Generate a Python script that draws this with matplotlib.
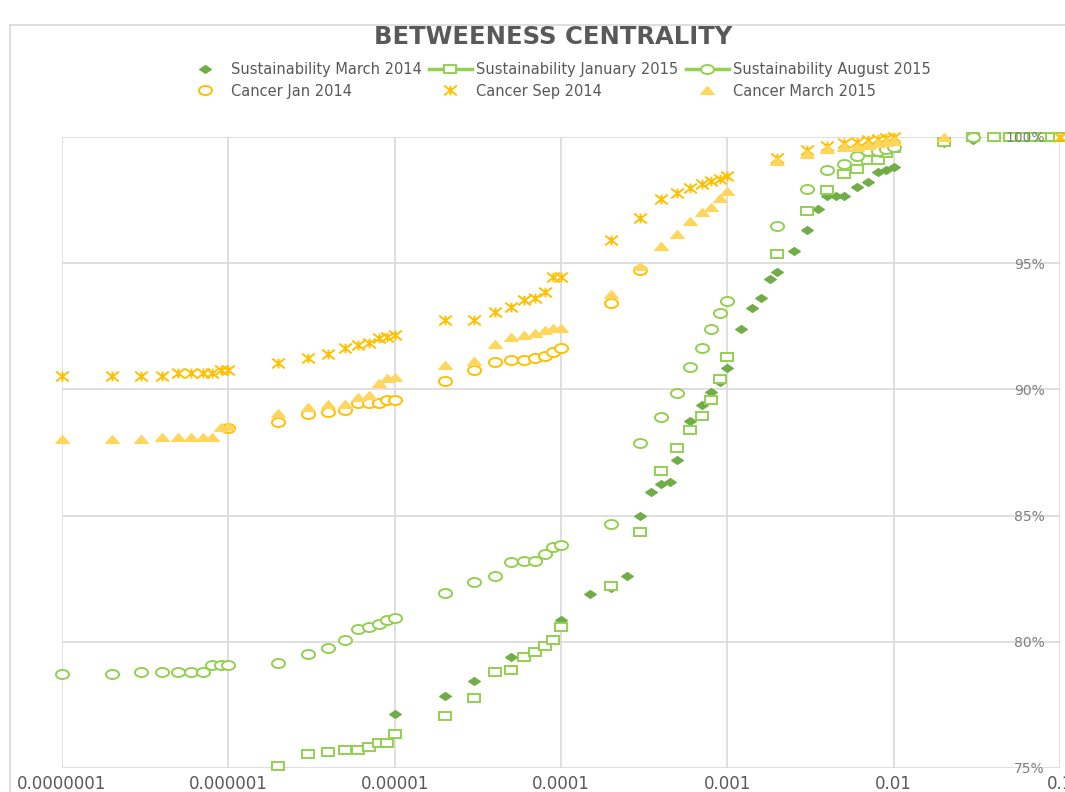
import matplotlib
matplotlib.use("Agg")
import matplotlib.pyplot as plt
from matplotlib.markers import MarkerStyle
from matplotlib.transforms import Affine2D
from matplotlib.path import Path
from matplotlib.lines import Line2D
from matplotlib.ticker import NullLocator

# ---------------- data ----------------
title = "BETWEENESS CENTRALITY"

s_mar14_x = [1e-5, 2e-5, 3e-5, 4e-5, 5e-5, 1e-4, 1.5e-4, 2e-4, 2.5e-4, 3e-4, 3.5e-4, 4e-4,
             4.5e-4, 5e-4, 6e-4, 7e-4, 8e-4, 9e-4, 1e-3, 1.2e-3, 1.4e-3, 1.6e-3, 1.8e-3,
             2e-3, 2.5e-3, 3e-3, 3.5e-3, 4e-3, 4.5e-3, 5e-3, 6e-3, 7e-3, 8e-3, 9e-3, 1e-2,
             2e-2, 3e-2, 4e-2, 9e-2, 1e-1]
s_mar14_y = [77.13, 77.85, 78.46, 78.79, 79.38, 80.86, 81.88, 82.12, 82.6, 85.0, 85.95, 86.24,
             86.34, 87.2, 88.76, 89.38, 89.88, 90.30, 90.83, 92.38, 93.24, 93.63, 94.37,
             94.66, 95.5, 96.32, 97.15, 97.67, 97.67, 97.67, 98.0, 98.2, 98.63, 98.69, 98.82,
             99.75, 99.88, 100, 100, 100]

s_jan15_x = [2e-6, 3e-6, 4e-6, 5e-6, 6e-6, 7e-6, 8e-6, 9e-6, 1e-5,
             2e-5, 3e-5, 4e-5, 5e-5, 6e-5, 7e-5, 8e-5, 9e-5, 1e-4,
             2e-4, 3e-4, 4e-4, 5e-4, 6e-4, 7e-4, 8e-4, 9e-4, 1e-3,
             2e-3, 3e-3, 4e-3, 5e-3, 6e-3, 7e-3, 8e-3, 9e-3, 1e-2,
             2e-2, 3e-2, 4e-2, 5e-2, 6e-2, 7e-2, 8e-2, 9e-2, 1e-1]
s_jan15_y = [75.08, 75.54, 75.62, 75.71, 75.71, 75.82, 76.0, 76.0, 76.35,
             77.06, 77.79, 78.79, 78.88, 79.41, 79.58, 79.85, 80.07, 80.57,
             82.21, 84.36, 86.78, 87.67, 88.39, 88.96, 89.58, 90.40, 91.30,
             95.35, 97.07, 97.90, 98.52, 98.72, 99.09, 99.09, 99.35, 99.58,
             99.8, 100, 100, 100, 100, 100, 100, 100, 100]

s_aug15_x = [1e-7, 2e-7, 3e-7, 4e-7, 5e-7, 6e-7, 7e-7, 8e-7, 9e-7, 1e-6,
             2e-6, 3e-6, 4e-6, 5e-6, 6e-6, 7e-6, 8e-6, 9e-6, 1e-5,
             2e-5, 3e-5, 4e-5, 5e-5, 6e-5, 7e-5, 8e-5, 9e-5, 1e-4,
             2e-4, 3e-4, 4e-4, 5e-4, 6e-4, 7e-4, 8e-4, 9e-4, 1e-3,
             2e-3, 3e-3, 4e-3, 5e-3, 6e-3, 7e-3, 8e-3, 9e-3, 1e-2,
             3e-2]
s_aug15_y = [78.72, 78.72, 78.79, 78.79, 78.79, 78.79, 78.79, 79.07, 79.07, 79.07,
             79.15, 79.50, 79.74, 80.07, 80.49, 80.60, 80.69, 80.86, 80.93,
             81.95, 82.37, 82.62, 83.15, 83.21, 83.21, 83.48, 83.74, 83.82,
             84.67, 87.89, 88.92, 89.84, 90.87, 91.63, 92.39, 93.01, 93.50,
             96.47, 97.93, 98.69, 98.93, 99.25, 99.45, 99.45, 99.52, 99.62,
             100]

c_jan14_x = [1e-6,
             2e-6, 3e-6, 4e-6, 5e-6, 6e-6, 7e-6, 8e-6, 9e-6, 1e-5,
             2e-5, 3e-5, 4e-5, 5e-5, 6e-5, 7e-5, 8e-5, 9e-5, 1e-4,
             2e-4, 3e-4]
c_jan14_y = [88.46,
             88.72, 89.01, 89.09, 89.18, 89.47, 89.47, 89.47, 89.58, 89.58,
             90.33, 90.77, 91.07, 91.16, 91.16, 91.26, 91.34, 91.47, 91.63,
             93.42, 94.73]

c_sep14_x = [1e-7, 2e-7, 3e-7, 4e-7, 5e-7, 6e-7, 7e-7, 8e-7, 9e-7, 1e-6,
             2e-6, 3e-6, 4e-6, 5e-6, 6e-6, 7e-6, 8e-6, 9e-6, 1e-5,
             2e-5, 3e-5, 4e-5, 5e-5, 6e-5, 7e-5, 8e-5, 9e-5, 1e-4,
             2e-4, 3e-4, 4e-4, 5e-4, 6e-4, 7e-4, 8e-4, 9e-4, 1e-3,
             2e-3, 3e-3, 4e-3, 5e-3, 6e-3, 7e-3, 8e-3, 9e-3, 1e-2,
             1e-1]
c_sep14_y = [90.53, 90.53, 90.53, 90.53, 90.65, 90.65, 90.65, 90.65, 90.77, 90.77,
             91.06, 91.23, 91.39, 91.63, 91.76, 91.83, 92.02, 92.09, 92.16,
             92.75, 92.75, 93.08, 93.28, 93.54, 93.61, 93.87, 94.47, 94.47,
             95.92, 96.80, 97.53, 97.77, 97.97, 98.14, 98.27, 98.32, 98.45,
             99.15, 99.48, 99.66, 99.75, 99.81, 99.88, 99.92, 99.96, 100,
             100]

c_mar15_x = [1e-7, 2e-7, 3e-7, 4e-7, 5e-7, 6e-7, 7e-7, 8e-7, 9e-7, 1e-6,
             2e-6, 3e-6, 4e-6, 5e-6, 6e-6, 7e-6, 8e-6, 9e-6, 1e-5,
             2e-5, 3e-5, 4e-5, 5e-5, 6e-5, 7e-5, 8e-5, 9e-5, 1e-4,
             2e-4, 3e-4, 4e-4, 5e-4, 6e-4, 7e-4, 8e-4, 9e-4, 1e-3,
             2e-3, 3e-3, 4e-3, 5e-3, 6e-3, 7e-3, 8e-3, 9e-3, 1e-2,
             2e-2]
c_mar15_y = [88.04, 88.04, 88.04, 88.13, 88.13, 88.13, 88.13, 88.13, 88.51, 88.55,
             89.05, 89.29, 89.41, 89.42, 89.69, 89.78, 90.24, 90.44, 90.50,
             90.97, 91.14, 91.80, 92.06, 92.16, 92.25, 92.35, 92.42, 92.42,
             93.78, 94.9, 95.68, 96.14, 96.67, 97.04, 97.21, 97.57, 97.87,
             99.05, 99.31, 99.51, 99.62, 99.62, 99.7, 99.75, 99.8, 99.85,
             100]

series_names = ["Sustainability March 2014", "Sustainability January 2015",
                "Sustainability August 2015", "Cancer Jan 2014", "Cancer Sep 2014",
                "Cancer March 2015"]

x_ticks = [1e-7, 1e-6, 1e-5, 1e-4, 1e-3, 1e-2, 1e-1]
x_tick_labels = ["0.0000001", "0.000001", "0.00001", "0.0001", "0.001", "0.01", "0.1"]
y_ticks = [75, 80, 85, 90, 95, 100]
y_tick_labels = ["75%", "80%", "85%", "90%", "95%", "100%"]

# ---------------- style ----------------
W, H = 1065, 792
fig = plt.figure(figsize=(W / 100, H / 100), dpi=100)
ax = fig.add_axes([62 / W, 1 - 768 / H, (1060 - 62) / W, (768 - 137) / H])

STRETCH = 1.45
def mk(m, sx=STRETCH):
    return MarkerStyle(m, transform=Affine2D().scale(sx, 1.0))

ast_path = Path([(0, -1), (0, 1), (-1, -1), (1, 1), (-1, 1), (1, -1)],
                [Path.MOVETO, Path.LINETO, Path.MOVETO, Path.LINETO, Path.MOVETO, Path.LINETO])

DGREEN = "#70AD47"
LGREEN = "#92D050"
ORANGE = "#FFC000"
GOLD = "#FFD65C"
GRID = "#D9D9D9"

styles = [
    dict(marker=mk("D", 1.5), ms=4.4, mfc=DGREEN, mec=DGREEN, mew=0.8),
    dict(marker=mk("s"), ms=6.3, mfc="white", mec=LGREEN, mew=1.4),
    dict(marker=mk("o"), ms=6.5, mfc="white", mec=LGREEN, mew=1.4),
    dict(marker=mk("o"), ms=6.5, mfc="white", mec=ORANGE, mew=1.4),
    dict(marker=mk(ast_path, 1.3), ms=7.0, mfc="none", mec=ORANGE, mew=1.4),
    dict(marker=mk("^", 1.5), ms=6.3, mfc=GOLD, mec=GOLD, mew=0.8),
]

data = [(s_mar14_x, s_mar14_y), (s_jan15_x, s_jan15_y), (s_aug15_x, s_aug15_y),
        (c_jan14_x, c_jan14_y), (c_sep14_x, c_sep14_y), (c_mar15_x, c_mar15_y)]

for (xs, ys), st, name in zip(data, styles, series_names):
    ax.plot(xs, ys, linestyle="none", clip_on=False, label=name, zorder=3, **st)

ax.set_xscale("log")
ax.set_xlim(1e-7, 1e-1)
ax.set_ylim(75, 100)
ax.set_axisbelow(True)
ax.grid(True, axis="x", which="major", color=GRID, lw=1.2)
for yv in y_ticks:
    ax.axhline(yv, color=GRID, lw=1.2, zorder=0.5)
ax.yaxis.set_zorder(4)   # y labels above the markers, as in the reference
ax.xaxis.set_minor_locator(NullLocator())
ax.set_xticks(x_ticks)
ax.set_xticklabels(x_tick_labels)
ax.set_yticks(y_ticks)
ax.set_yticklabels(y_tick_labels)
ax.yaxis.tick_right()
ax.tick_params(axis="x", length=0, pad=5, labelsize=12, labelcolor="#595959")
ax.tick_params(axis="y", length=0, pad=-11, labelsize=10, labelcolor="#7F7F7F")
for lbl in ax.get_yticklabels():
    lbl.set_horizontalalignment("right")
for sp in ax.spines.values():
    sp.set_visible(False)

# chart area border (partially visible)
fig.add_artist(Line2D([10 / W, 10 / W], [0, 1 - 25 / H], transform=fig.transFigure,
                      color=GRID, lw=1.2))
fig.add_artist(Line2D([10 / W, 1], [1 - 25 / H, 1 - 25 / H], transform=fig.transFigure,
                      color=GRID, lw=1.2))

fig.text(553 / W, 1 - 37 / H, title, ha="center", va="center", fontsize=17.5,
         fontweight="bold", color="#595959")

# legend (row-wise order in 3 columns)
handles = []
for i, st in enumerate(styles):
    ls = "-" if i in (1, 2) else "none"
    handles.append(Line2D([], [], linestyle=ls, color=LGREEN, lw=2.5, **st))
order = [0, 3, 1, 4, 2, 5]
fig.legend([handles[i] for i in order], [series_names[i] for i in order],
           loc="upper center", bbox_to_anchor=(557 / W, 1 - 62 / H), ncol=3,
           frameon=False, fontsize=10.5, handlelength=2.95, handletextpad=0.3,
           columnspacing=0.5, borderaxespad=0, borderpad=0, labelspacing=0.45,
           labelcolor="#595959")

fig.savefig("out.png", dpi=100)
